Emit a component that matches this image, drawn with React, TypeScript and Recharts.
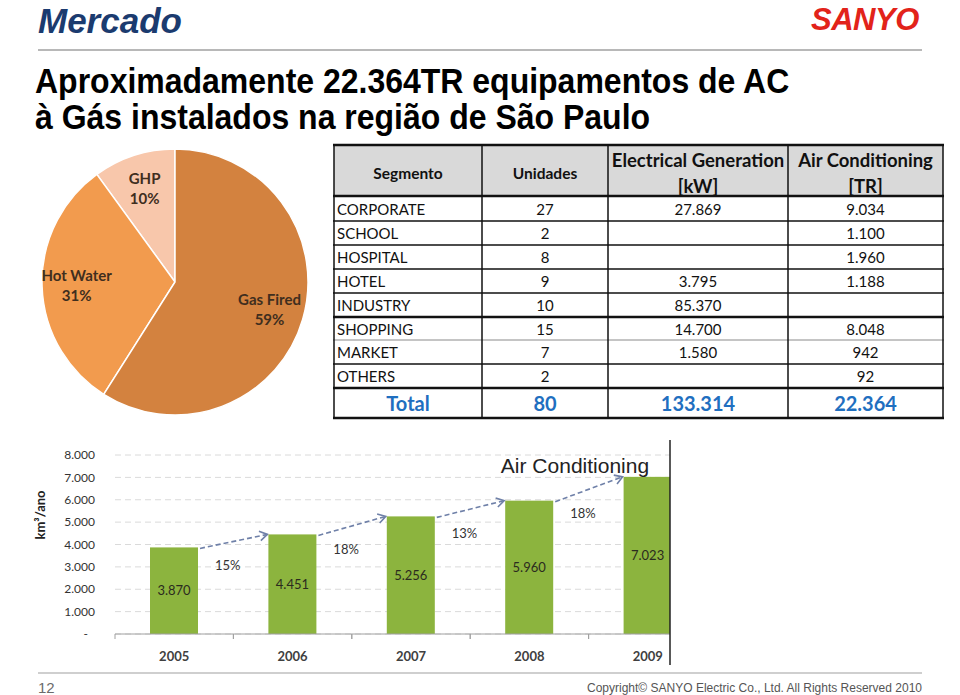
import React from 'react';
import { PieChart, Pie, Cell, BarChart, Bar, XAxis, YAxis, CartesianGrid, LabelList } from 'recharts';

// ---------- data ----------
const pieNames = ['GHP', 'Hot Water', 'Gas Fired'];
const pieValues = [10, 31, 59];
const pieColors = ['#F8C7AB', '#F29B4E', '#D3823F'];

const years = ['2005', '2006', '2007', '2008', '2009'];
const acValues = [3870, 4451, 5256, 5960, 7023];
const growthLabels = ['15%', '18%', '13%', '18%'];
const yTicks = [0, 1000, 2000, 3000, 4000, 5000, 6000, 7000, 8000];

const headerTop = ['Segmento', 'Unidades', 'Electrical Generation', 'Air Conditioning'];
const headerUnits = ['', '', '[kW]', '[TR]'];
const segments = ['CORPORATE', 'SCHOOL', 'HOSPITAL', 'HOTEL', 'INDUSTRY', 'SHOPPING', 'MARKET', 'OTHERS'];
const units = ['27', '2', '8', '9', '10', '15', '7', '2'];
const elecKW = ['27.869', '', '', '3.795', '85.370', '14.700', '1.580', ''];
const acTR = ['9.034', '1.100', '1.960', '1.188', '', '8.048', '942', '92'];
const totals = ['Total', '80', '133.314', '22.364'];

// ---------- style / layout ----------
const CAL = "Lato, 'Open Sans', sans-serif";
const ARIAL = "'Liberation Sans', Arial, sans-serif";
const BAR_GREEN = '#8CB43E';
const ARROW = '#6F80A8';

const BAR_LEFT = 20;
const BAR_TOP = 435;
const CHART_W = 687;
const CHART_H = 235;
const Y_AXIS_W = 95;
const MARGIN = { top: 20, right: 0, left: 0, bottom: 6 };
const BAND = (CHART_W - Y_AXIS_W - MARGIN.left - MARGIN.right) / years.length;

const colX = [334, 482, 608, 788, 943];
const rowY = [145, 196, 221, 245, 269, 293, 317, 340, 364, 388, 418];

const RAD = Math.PI / 180;

const fmt = (v: number) => {
  if (v === 0) return '-';
  return String(Math.round(v)).replace(/\B(?=(\d{3})+(?!\d))/g, '.');
};

const pieData = pieNames.map((name, i) => ({ name, value: pieValues[i] }));
const barData = years.map((year, i) => ({ year, value: acValues[i] }));

const renderPieLabel = (p: any) => {
  const { cx, cy, midAngle, outerRadius, name, value } = p;
  const r = outerRadius * 0.74;
  const x = cx + r * Math.cos(-midAngle * RAD);
  const y = cy + r * Math.sin(-midAngle * RAD);
  return (
    <text textAnchor="middle" fontFamily={CAL} fontWeight={700} fontSize={15} fill="#3F2E1E">
      <tspan x={x} y={y - 4.5}>{name}</tspan>
      <tspan x={x} y={y + 15.5}>{value}%</tspan>
    </text>
  );
};

const ArrowBar = (props: any) => {
  const { x, y, width, height, index } = props;
  const val = acValues[index];
  const base = y + height;
  const k = height / val;
  const parts: any[] = [<rect key="b" x={x} y={y} width={width} height={height} fill={BAR_GREEN} />];
  if (index < acValues.length - 1) {
    const x1 = x + width + 2;
    const y1 = y + 1;
    const x2 = x + BAND - 1;
    const y2 = base - acValues[index + 1] * k;
    const ang = Math.atan2(y2 - y1, x2 - x1);
    const hl = 9;
    const sp = 0.55;
    const ax = x2 - hl * Math.cos(ang - sp);
    const ay = y2 - hl * Math.sin(ang - sp);
    const bx = x2 - hl * Math.cos(ang + sp);
    const by = y2 - hl * Math.sin(ang + sp);
    parts.push(<line key="l" x1={x1} y1={y1} x2={x2} y2={y2} stroke={ARROW} strokeWidth={1.6} strokeDasharray="5 3" />);
    parts.push(<polyline key="h" points={`${ax},${ay} ${x2},${y2} ${bx},${by}`} fill="none" stroke={ARROW} strokeWidth={1.6} />);
    parts.push(
      <text key="t" x={(x1 + x2) / 2 - 6} y={(y1 + y2) / 2 + 24} dy="0.35em" textAnchor="middle"
        fontFamily={CAL} fontSize={13} fill="#333">{growthLabels[index]}</text>
    );
  }
  return <g>{parts}</g>;
};

const XTick = (props: any) => {
  const { x, y, payload } = props;
  const half = BAND / 2;
  return (
    <g>
      <line x1={x - half} y1={y} x2={x - half} y2={y + 5} stroke="#A0A0A0" />
      <line x1={x + half} y1={y} x2={x + half} y2={y + 5} stroke="#A0A0A0" />
      <text x={x} y={y + 27} textAnchor="middle" fontFamily={CAL} fontWeight={700} fontSize={13} fill="#404040">
        {payload.value}
      </text>
    </g>
  );
};

const YTick = (props: any) => {
  const { x, y, payload } = props;
  return (
    <text x={payload.value === 0 ? x - 7 : x} y={y} dy="0.35em" textAnchor="end" fontFamily={CAL} fontSize={12} fill="#333">
      {fmt(payload.value)}
    </text>
  );
};

const Table = () => {
  const cellCenter = (c: number) => (colX[c] + colX[c + 1]) / 2;
  const rows = segments.map((s, i) => [s, units[i], elecKW[i], acTR[i]]);
  const thick = new Set([0, 1, 6, 9, 10]);
  return (
    <g>
      <rect x={colX[0]} y={rowY[0]} width={colX[4] - colX[0]} height={rowY[1] - rowY[0]} fill="#D9D9D9" />
      {rowY.map((yy, i) => (
        <line key={'h' + i} x1={colX[0] - 1} x2={colX[4] + 1} y1={yy} y2={yy}
          stroke={i === 7 ? '#8a8a8a' : '#111'} strokeWidth={thick.has(i) ? 2.4 : i === 7 ? 1 : 1.5} />
      ))}
      {colX.map((xx, i) => (
        <line key={'v' + i} x1={xx} x2={xx} y1={rowY[0]} y2={rowY[10]} stroke="#111" strokeWidth={1.5} />
      ))}
      {headerTop.map((h, c) => (
        headerUnits[c] ? (
          <g key={'hd' + c}>
            <text x={cellCenter(c)} y={160} dy="0.36em" textAnchor="middle" fontFamily={CAL} fontWeight={700} fontSize={18.5} fill="#111">{h}</text>
            <text x={cellCenter(c)} y={186} dy="0.36em" textAnchor="middle" fontFamily={CAL} fontWeight={700} fontSize={18.5} fill="#111">{headerUnits[c]}</text>
          </g>
        ) : (
          <text key={'hd' + c} x={cellCenter(c)} y={173} dy="0.36em" textAnchor="middle" fontFamily={CAL} fontWeight={700} fontSize={15.5} fill="#111">{h}</text>
        )
      ))}
      {rows.map((r, i) => {
        const cy = (rowY[i + 1] + rowY[i + 2]) / 2 + 1;
        return r.map((t, c) => (
          <text key={'r' + i + c} x={c === 0 ? colX[0] + 3 : cellCenter(c)} y={cy} dy="0.36em"
            textAnchor={c === 0 ? 'start' : 'middle'} fontFamily={CAL} fontSize={15} fill="#111">{t}</text>
        ));
      })}
      {totals.map((t, c) => (
        <text key={'t' + c} x={cellCenter(c)} y={(rowY[9] + rowY[10]) / 2 + 1} dy="0.36em" textAnchor="middle"
          fontFamily={CAL} fontWeight={700} fontSize={20} fill="#1F6FC0">{t}</text>
      ))}
    </g>
  );
};

export default function App() {
  return (
    <div style={{ position: 'absolute', left: 0, top: 0, width: 960, height: 695, background: '#fff', overflow: 'hidden' }}>
      <div style={{ position: 'absolute', left: 30, top: 137 }}>
        <PieChart width={280} height={280}>
          <Pie data={pieData} dataKey="value" nameKey="name" cx={140} cy={140} outerRadius={133}
            startAngle={90} endAngle={450} stroke="#fff" strokeWidth={1.5}
            label={renderPieLabel} labelLine={false} isAnimationActive={false}>
            {pieData.map((d, i) => <Cell key={d.name} fill={pieColors[i]} />)}
          </Pie>
        </PieChart>
      </div>

      <div style={{ position: 'absolute', left: BAR_LEFT, top: BAR_TOP, width: 650, height: CHART_H, overflow: 'hidden' }}>
        <BarChart width={CHART_W} height={CHART_H} data={barData} margin={MARGIN} barSize={48}>
          <CartesianGrid vertical={false} stroke="#DADADA" strokeDasharray="6 4" />
          <XAxis dataKey="year" height={30} tickSize={0} tickMargin={0} axisLine={{ stroke: '#A0A0A0' }}
            tickLine={false} tick={<XTick />} interval={0} />
          <YAxis width={Y_AXIS_W} domain={[0, 8000]} ticks={yTicks} tickSize={0} tickMargin={20}
            axisLine={false} tickLine={false} tick={<YTick />} interval={0} />
          <Bar dataKey="value" fill={BAR_GREEN} shape={(p: any) => <ArrowBar {...p} />} isAnimationActive={false}>
            <LabelList dataKey="value" position="center" formatter={(v: any) => fmt(Number(v))}
              style={{ fontFamily: CAL, fontSize: 13, fill: '#2B2B1E' }} />
          </Bar>
        </BarChart>
      </div>

      <svg width={960} height={695} style={{ position: 'absolute', left: 0, top: 0, pointerEvents: 'none' }}>
        <text x={38} y={33} fontFamily={ARIAL} fontWeight={700} fontStyle="italic" fontSize={35} fill="#1B3B6F">Mercado</text>
        <text x={811} y={30} fontFamily={ARIAL} fontWeight={700} fontStyle="italic" fontSize={31} fill="#E2231A" letterSpacing={-0.5}>SANYO</text>
        <line x1={38} x2={922} y1={50} y2={50} stroke="#A0A0A0" strokeWidth={1.5} />
        <text transform="translate(35,93) scale(1,1.1)" fontFamily={ARIAL} fontWeight={700} fontSize={32} fill="#000">Aproximadamente 22.364TR equipamentos de AC</text>
        <text transform="translate(35,129) scale(1,1.1)" fontFamily={ARIAL} fontWeight={700} fontSize={32} fill="#000">à Gás instalados na região de São Paulo</text>

        <Table />

        <text x={575} y={473} textAnchor="middle" fontFamily={ARIAL} fontSize={21} fill="#222">Air Conditioning</text>
        <text transform="translate(40,515) rotate(-90)" textAnchor="middle" dy="0.35em" fontFamily={CAL} fontWeight={700} fontSize={13} fill="#222">km³/ano</text>
        <line x1={670} x2={670} y1={440} y2={665} stroke="#222" strokeWidth={1.5} />

        <line x1={38} x2={922} y1={673} y2={673} stroke="#A0A0A0" strokeWidth={1.2} />
        <text x={38} y={693} fontFamily={ARIAL} fontSize={15} fill="#6B6B6B">12</text>
        <text x={922} y={692} textAnchor="end" fontFamily={ARIAL} fontSize={12} fill="#555">Copyright© SANYO Electric Co., Ltd. All Rights Reserved 2010</text>
      </svg>
    </div>
  );
}
